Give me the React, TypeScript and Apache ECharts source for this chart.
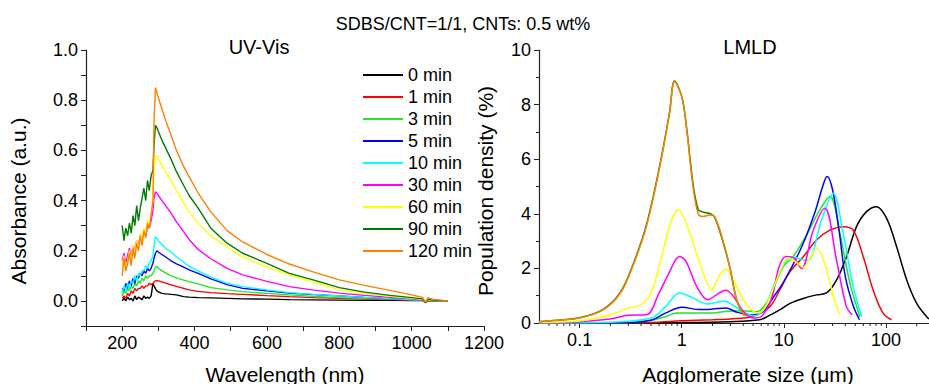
import React, { useEffect, useRef } from "react";
import * as echarts from "echarts";

const seriesNames = ["0 min", "1 min", "3 min", "5 min", "10 min", "30 min", "60 min", "90 min", "120 min"];
const seriesColors = ["#000000", "#ff0000", "#22e622", "#0000ff", "#00ffff", "#ff00ff", "#ffff00", "#007a00", "#ff8000"];

// UV-Vis (wavelength in nm)
const wavelength = [200, 205, 210, 215, 220, 225, 230, 235, 240, 245, 250, 255, 260, 265, 270, 275, 280, 285, 288, 292, 296, 300, 310, 320, 335, 350, 370, 385, 410, 445, 490, 533, 600, 662, 730, 800, 870, 940, 1000, 1030, 1038, 1045, 1060, 1100];
const uv0 = [0.0, 0.01, 0.0, 0.015, 0.005, 0.01, 0.0, 0.02, 0.005, 0.015, 0.01, 0.005, 0.02, 0.01, 0.015, 0.01, 0.02, 0.07, 0.06, 0.048, 0.04, 0.036, 0.03, 0.028, 0.026, 0.024, 0.017, 0.015, 0.013, 0.012, 0.01, 0.008, 0.007, 0.005, 0.004, 0.003, 0.002, 0.002, 0.001, 0.001, -0.004, 0.0, 0.0, 0.0];
const uv1 = [0.01, 0.02, 0.01, 0.03, 0.02, 0.04, 0.03, 0.05, 0.04, 0.05, 0.05, 0.06, 0.05, 0.06, 0.06, 0.07, 0.065, 0.07, 0.075, 0.08, 0.081, 0.08, 0.076, 0.071, 0.064, 0.058, 0.05, 0.044, 0.038, 0.033, 0.029, 0.026, 0.021, 0.017, 0.013, 0.01, 0.007, 0.005, 0.003, 0.002, -0.005, 0.001, 0.0, 0.0];
const uv3 = [0.02, 0.04, 0.03, 0.05, 0.04, 0.06, 0.05, 0.07, 0.06, 0.08, 0.07, 0.09, 0.08, 0.1, 0.09, 0.1, 0.1, 0.11, 0.12, 0.135, 0.137, 0.13, 0.12, 0.112, 0.1, 0.092, 0.083, 0.077, 0.068, 0.053, 0.044, 0.037, 0.03, 0.024, 0.018, 0.013, 0.01, 0.007, 0.004, 0.002, -0.006, 0.002, 0.001, 0.0];
const uv5 = [0.05, 0.04, 0.07, 0.05, 0.08, 0.06, 0.09, 0.07, 0.1, 0.09, 0.11, 0.1, 0.12, 0.11, 0.13, 0.12, 0.13, 0.15, 0.17, 0.19, 0.2, 0.195, 0.185, 0.175, 0.16, 0.148, 0.135, 0.124, 0.11, 0.088, 0.065, 0.05, 0.04, 0.031, 0.025, 0.02, 0.014, 0.009, 0.005, 0.003, -0.006, 0.002, 0.001, 0.0];
const uv10 = [0.03, 0.06, 0.04, 0.07, 0.05, 0.08, 0.07, 0.1, 0.08, 0.11, 0.1, 0.12, 0.12, 0.14, 0.13, 0.15, 0.16, 0.18, 0.22, 0.255, 0.25, 0.24, 0.225, 0.21, 0.195, 0.175, 0.155, 0.137, 0.12, 0.095, 0.07, 0.057, 0.044, 0.033, 0.026, 0.02, 0.014, 0.009, 0.005, 0.003, -0.006, 0.002, 0.001, 0.0];
const uv30 = [0.16, 0.19, 0.15, 0.18, 0.21, 0.17, 0.22, 0.2, 0.24, 0.22, 0.26, 0.24, 0.28, 0.26, 0.3, 0.29, 0.32, 0.36, 0.41, 0.435, 0.43, 0.42, 0.4, 0.38, 0.35, 0.315, 0.275, 0.245, 0.205, 0.168, 0.13, 0.104, 0.078, 0.057, 0.043, 0.031, 0.022, 0.014, 0.008, 0.004, -0.006, 0.003, 0.001, 0.0];
const uv60 = [0.14, 0.18, 0.13, 0.16, 0.2, 0.16, 0.22, 0.19, 0.24, 0.21, 0.27, 0.24, 0.29, 0.27, 0.32, 0.3, 0.35, 0.4, 0.52, 0.575, 0.58, 0.565, 0.54, 0.515, 0.48, 0.44, 0.39, 0.355, 0.31, 0.26, 0.215, 0.175, 0.135, 0.104, 0.075, 0.044, 0.03, 0.018, 0.01, 0.006, -0.005, 0.004, 0.002, 0.0];
const uv90 = [0.3, 0.24, 0.29, 0.26, 0.31, 0.27, 0.34, 0.3, 0.38, 0.32, 0.37, 0.41, 0.45, 0.4, 0.48, 0.44, 0.5, 0.52, 0.62, 0.7, 0.69, 0.675, 0.64, 0.61, 0.565, 0.515, 0.46, 0.42, 0.37, 0.29, 0.23, 0.19, 0.15, 0.11, 0.083, 0.053, 0.035, 0.022, 0.013, 0.008, -0.008, 0.006, 0.003, 0.0];
const uv120 = [0.1, 0.17, 0.12, 0.15, 0.19, 0.14, 0.21, 0.17, 0.23, 0.2, 0.26, 0.22, 0.28, 0.25, 0.31, 0.29, 0.34, 0.4, 0.72, 0.85, 0.83, 0.81, 0.765, 0.72, 0.66, 0.6, 0.535, 0.495, 0.43, 0.355, 0.28, 0.235, 0.185, 0.147, 0.115, 0.084, 0.062, 0.042, 0.024, 0.014, -0.005, 0.012, 0.006, 0.0];
const uvValues = [uv0, uv1, uv3, uv5, uv10, uv30, uv60, uv90, uv120];

// LMLD (agglomerate size in µm, population density in %)
const size0 = [0.04, 1, 3, 5.8, 7, 9.1, 11.5, 15.5, 20.9, 26.2, 32.8, 41.1, 51.5, 64.5, 81, 101.6, 127, 160, 200, 250, 264];
const dens0 = [0.0, 0.02, 0.05, 0.12, 0.25, 0.48, 0.72, 0.9, 1.03, 1.1, 1.57, 2.43, 3.53, 4.08, 4.26, 3.83, 2.8, 1.57, 0.72, 0.23, 0.15];
const size1 = [0.04, 0.5, 1, 2, 3, 5, 7.3, 9.1, 11.5, 15.5, 20.9, 28.2, 38.2, 47.8, 59.9, 75, 94, 113.5];
const dens1 = [0.0, 0.02, 0.08, 0.12, 0.15, 0.25, 0.6, 1.2, 1.88, 2.43, 3.04, 3.4, 3.53, 3.4, 2.43, 1.2, 0.35, 0.12];
const size3 = [0.04, 0.3, 0.5, 0.7, 0.9, 1.2, 2, 2.8, 4, 5.4, 6.2, 7.3, 9.85, 12.3, 16.7, 22.5, 28.3, 35.4, 44.4, 55.6];
const dens3 = [0.0, 0.02, 0.1, 0.24, 0.37, 0.37, 0.37, 0.43, 0.45, 0.41, 0.55, 0.96, 2.06, 2.43, 3.22, 4.14, 4.63, 3.28, 1.45, 0.23];
const size5 = [0.04, 0.3, 0.5, 0.7, 1.0, 1.5, 2, 2.7, 3.5, 5, 6.5, 8, 10, 15, 20, 24, 26.5, 30, 35, 40, 48, 55];
const dens5 = [0.0, 0.02, 0.1, 0.37, 0.58, 0.49, 0.51, 0.55, 0.39, 0.3, 0.49, 0.98, 1.52, 2.8, 4.02, 5.0, 5.37, 4.88, 3.3, 1.7, 0.61, 0.12];
const size10 = [0.04, 0.2, 0.5, 0.7, 0.95, 1.3, 1.8, 2.6, 3.3, 4.5, 5.2, 6.5, 7.85, 10.6, 11.9, 15.5, 17.3, 23.4, 30.4, 38.1, 47.8, 57.8];
const dens10 = [0.0, 0.03, 0.18, 0.61, 1.1, 0.91, 0.7, 0.8, 0.61, 0.3, 0.27, 0.55, 1.33, 2.31, 2.43, 2.31, 2.3, 3.77, 4.75, 3.28, 1.33, 0.23];
const size30 = [0.04, 0.1, 0.2, 0.3, 0.45, 0.6, 0.75, 0.95, 1.1, 1.4, 1.8, 2.2, 2.7, 3.2, 4, 5, 6, 7.5, 9, 10.5, 12.5, 14.9, 19.4, 25.2, 32.8, 41, 46.8];
const dens30 = [0.01, 0.05, 0.15, 0.28, 0.3, 1.1, 1.83, 2.44, 2.26, 1.34, 0.85, 1.04, 1.2, 0.98, 0.43, 0.18, 0.24, 0.85, 2.07, 2.44, 2.38, 2.0, 3.4, 4.2, 2.3, 0.6, 0.3];
const size60 = [0.04, 0.1, 0.2, 0.3, 0.4, 0.5, 0.6, 0.7, 0.8, 0.92, 1.0, 1.2, 1.5, 1.8, 1.95, 2.3, 2.7, 3.2, 4, 5, 5.5, 6.5, 8, 10, 11, 13.5, 15.5, 18, 21, 25, 30, 35];
const dens60 = [0.02, 0.07, 0.3, 0.55, 0.67, 1.1, 2.07, 3.05, 3.78, 4.15, 4.02, 3.3, 2.2, 1.4, 1.2, 1.7, 1.98, 1.59, 0.85, 0.43, 0.37, 0.55, 1.34, 2.2, 2.38, 2.2, 2.04, 2.38, 2.74, 2.2, 1.1, 0.3];
const size90 = [0.04, 0.06, 0.1, 0.17, 0.25, 0.33, 0.45, 0.61, 0.76, 0.85, 1.0, 1.11, 1.29, 1.45, 1.6, 1.9, 2.1, 2.5, 2.95, 3.45, 4.0, 4.3];
const dens90 = [0.05, 0.1, 0.19, 0.5, 1.12, 2.1, 3.58, 5.78, 7.72, 8.86, 8.3, 7.22, 5.1, 4.15, 4.07, 4.0, 3.88, 3.05, 2.05, 0.85, 0.32, 0.28];
const size120 = [0.04, 0.06, 0.1, 0.17, 0.25, 0.33, 0.45, 0.61, 0.76, 0.85, 1.0, 1.11, 1.29, 1.45, 1.6, 1.9, 2.1, 2.5, 2.95, 3.45, 4.0, 4.3];
const dens120 = [0.05, 0.1, 0.18, 0.48, 1.09, 2.06, 3.53, 5.73, 7.68, 8.84, 8.29, 7.19, 4.99, 4.0, 3.9, 3.96, 3.9, 3.1, 2.07, 0.85, 0.32, 0.28];
const lmldSizes = [size0, size1, size3, size5, size10, size30, size60, size90, size120];
const lmldDens = [dens0, dens1, dens3, dens5, dens10, dens30, dens60, dens90, dens120];

const logMajorLabels = [0.1, 1, 10, 100];
const logMinorTicks = [0.05, 0.06, 0.07, 0.08, 0.09, 0.2, 0.3, 0.4, 0.5, 0.6, 0.7, 0.8, 0.9, 2, 3, 4, 5, 6, 7, 8, 9, 20, 30, 40, 50, 60, 70, 80, 90, 200];

const FONT = '"Liberation Sans", Arial, sans-serif';
const AX = "#222";

export default function App() {
  const ref = useRef<HTMLDivElement>(null);
  useEffect(() => {
    if (!ref.current) return;
    const chart = echarts.init(ref.current, undefined, { renderer: "svg" });
    const axisCommon = {
      axisLine: { show: true, onZero: false, lineStyle: { color: AX, width: 1.2 } },
      axisTick: { show: true, inside: false, length: 5, lineStyle: { color: AX } },
      splitLine: { show: false },
      axisLabel: { color: "#000", fontSize: 18, fontFamily: FONT, margin: 8 },
    };
    const uvSeries = seriesNames.map((name, s) => ({
      name,
      type: "line",
      xAxisIndex: 0,
      yAxisIndex: 0,
      data: wavelength.map((w, i) => [w, uvValues[s][i]]),
      symbol: "none",
      showSymbol: false,
      lineStyle: { color: seriesColors[s], width: 1.4 },
      itemStyle: { color: seriesColors[s] },
    }));
    const lmldSeries = seriesNames.map((name, s) => ({
      name,
      type: "line",
      xAxisIndex: 1,
      yAxisIndex: 1,
      data: lmldSizes[s].map((x, i) => [x, lmldDens[s][i]]),
      symbol: "none",
      showSymbol: false,
      smooth: 0.35,
      lineStyle: { color: seriesColors[s], width: 1.5 },
      itemStyle: { color: seriesColors[s] },
    }));
    const minorTickSeries = {
      type: "custom",
      xAxisIndex: 1,
      yAxisIndex: 1,
      silent: true,
      clip: false,
      data: logMinorTicks.map((v) => [v, 0]),
      encode: { x: 0, y: 1 },
      renderItem: (_p: any, api: any) => {
        const pt = api.coord([api.value(0), 0]);
        return {
          type: "line",
          shape: { x1: pt[0], y1: pt[1], x2: pt[0], y2: pt[1] + 3 },
          style: { stroke: AX, lineWidth: 1 },
        };
      },
    };
    const text = (t: string, x: number, y: number, size: number, rotation = 0) => ({
      type: "text",
      x,
      y,
      rotation,
      style: {
        text: t,
        font: `${size}px ${FONT}`,
        fill: "#000",
        textAlign: "center",
        textVerticalAlign: "middle",
        align: "center",
        verticalAlign: "middle",
      },
    });
    chart.setOption({
      animation: false,
      backgroundColor: "#ffffff",
      textStyle: { fontFamily: FONT },
      grid: [
        { left: 86, top: 50, width: 398, height: 276, containLabel: false },
        { left: 539, top: 50, width: 390, height: 273, containLabel: false },
      ],
      xAxis: [
        {
          ...axisCommon,
          gridIndex: 0,
          type: "value",
          min: 100,
          max: 1200,
          interval: 100,
          axisLabel: {
            ...axisCommon.axisLabel,
            formatter: (v: number) => (Math.round(v) % 200 === 0 ? String(Math.round(v)) : ""),
          },
        },
        {
          ...axisCommon,
          gridIndex: 1,
          type: "log",
          logBase: 10,
          min: 0.04,
          max: 264,
          axisTick: { ...axisCommon.axisTick, customValues: logMajorLabels },
          axisLabel: {
            ...axisCommon.axisLabel,
            customValues: logMajorLabels,
            formatter: (v: number) => {
              const l = Math.round(Math.log10(v));
              if (Math.abs(Math.log10(v) - l) > 1e-6) return "";
              return l < 0 ? Math.pow(10, l).toFixed(-l) : String(Math.pow(10, l));
            },
          },
        },
      ],
      yAxis: [
        {
          ...axisCommon,
          gridIndex: 0,
          type: "value",
          min: -0.1,
          max: 1.0,
          interval: 0.1,
          axisLabel: {
            ...axisCommon.axisLabel,
            formatter: (v: number) => {
              const k = Math.round(v * 10);
              return k >= 0 && k % 2 === 0 ? (k / 10).toFixed(1) : "";
            },
          },
        },
        {
          ...axisCommon,
          gridIndex: 1,
          type: "value",
          min: 0,
          max: 10,
          interval: 2,
          minorTick: { show: true, splitNumber: 2, length: 3, lineStyle: { color: AX } },
        },
      ],
      legend: {
        data: seriesNames.map((n) => ({ name: n, icon: "rect" })),
        orient: "vertical",
        left: 363,
        top: 66,
        itemWidth: 40,
        itemHeight: 2,
        itemGap: 4,
        padding: 0,
        textStyle: { fontSize: 18, lineHeight: 18, fontFamily: FONT, color: "#000" },
        selectedMode: false,
      },
      graphic: [
        text("SDBS/CNT=1/1, CNTs: 0.5 wt%", 463, 24, 18),
        text("UV-Vis", 259, 47, 20),
        text("LMLD", 750, 47, 20),
        text("Absorbance (a.u.)", 18, 201, 21, Math.PI / 2),
        text("Wavelength (nm)", 285, 374, 21),
        text("Population density (%)", 485, 191, 21, Math.PI / 2),
        text("Agglomerate size (\u03bcm)", 748, 374, 21),
      ],
      series: [...uvSeries, ...lmldSeries, minorTickSeries],
    });
    return () => chart.dispose();
  }, []);
  return (
    <div
      ref={ref}
      style={{ position: "fixed", left: 0, top: 0, width: 929, height: 384, background: "#fff" }}
    />
  );
}
